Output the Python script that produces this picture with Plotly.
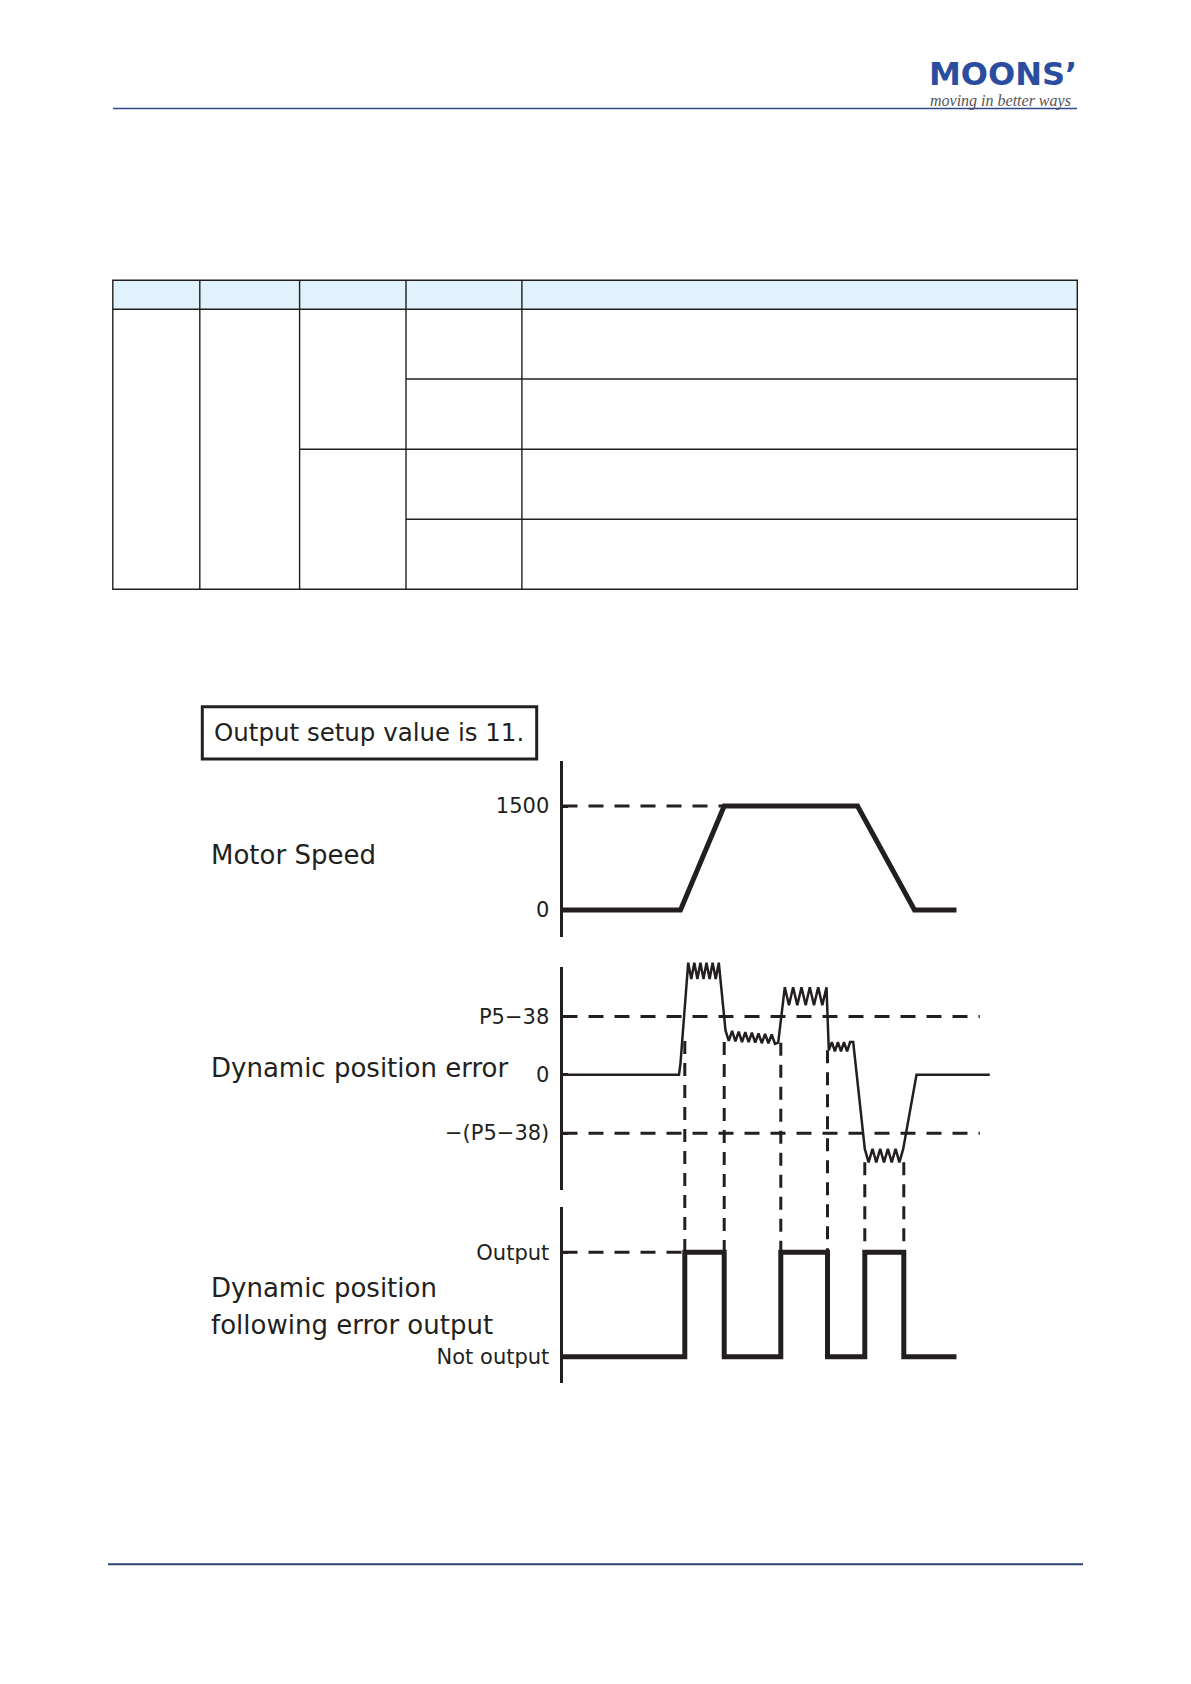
import plotly.graph_objects as go

# Page is 1191x1684; the browser adds an 8px body margin, so the figure is
# 8px smaller on every side and page coordinates are shifted by 8px.
PAGE_W, PAGE_H = 1191, 1684
OFF = 8
W, H = PAGE_W - 2 * OFF, PAGE_H - 2 * OFF

# ---------------- data ----------------
# Motor speed profile (time in arbitrary units, speed in rpm)
speed_t = [0, 118, 161.7, 295, 352, 394]
speed_v = [0, 0, 1500, 1500, 0, 0]
speed_tickvals = [1500, 0]
speed_ticktext = ["1500", "0"]
speed_limit = 1500
speed_limit_end_t = 161.7

# Dynamic position error (in units of P5-38)
err_t = [0, 116.5, 118, 125.7, 128.8, 131.8, 134.9, 137.9, 141.0, 144.0, 147.1, 150.1, 153.2, 156.3,
         163.0, 166.3, 169.6, 172.9, 176.2, 179.5, 182.8, 186.1, 189.4, 192.7, 196.0, 199.3, 202.6,
         205.9, 209.2, 212.5, 215.7,
         222.3, 226.5, 230.6, 234.8, 239.0, 243.2, 247.3, 251.5, 255.7, 259.8, 264.0,
         266.3, 269.3, 272.4, 275.4, 278.5, 281.5, 284.6, 287.6, 290.7,
         302.3, 306.1, 310.0, 313.8, 317.7, 321.5, 325.4, 329.2, 333.1, 336.9, 340.7,
         354.0, 427.3]
err_v = [0, 0, 0.2, 1.92, 1.64, 1.92, 1.64, 1.92, 1.64, 1.92, 1.64, 1.92, 1.64, 1.92,
         0.76, 0.58, 0.75, 0.57, 0.74, 0.56, 0.73, 0.56, 0.72, 0.55, 0.71, 0.54, 0.70,
         0.54, 0.69, 0.53, 0.55,
         1.50, 1.19, 1.50, 1.19, 1.50, 1.19, 1.50, 1.19, 1.50, 1.19, 1.50,
         0.42, 0.56, 0.40, 0.56, 0.40, 0.56, 0.40, 0.56, 0.56,
         -1.27, -1.50, -1.27, -1.50, -1.27, -1.50, -1.27, -1.50, -1.27, -1.50, -1.27,
         0.0, 0.0]
err_tickvals = [1, 0, -1]
err_ticktext = ["P5\u221238", "0", "\u2212(P5\u221238)"]
err_limit = 1
err_limit_end_t = 417.3

# Output signal (1 = output, 0 = not output), switching times
out_t = [0, 122.3, 161.7, 218.3, 265.0, 302.3, 341.3, 394]
out_v = [0, 1, 0, 1, 0, 1, 0, 0]
out_tickvals = [1, 0]
out_ticktext = ["Output", "Not output"]
out_dash_end_t = 122.3
# error level at which each switching guide line starts
edge_t = [122.3, 161.7, 218.3, 265.0, 302.3, 341.3]
edge_err = [0.58, 0.56, 0.55, 0.42, -1.50, -1.50]

panel_titles = ["Motor Speed", "Dynamic position error", "Dynamic position", "following error output"]
box_text = "Output setup value is 11."

# ---------------- helpers ----------------
def px(x):
    return (x - OFF) / W

def py(y):
    return 1 - (y - OFF) / H

INK = "#231f20"
FONT = "DejaVu Sans"

x_dom = [px(562.5), px(1002.5)]
x_rng = [0, 440]

p1_dom = [py(937), py(761)]
p1_rng = [-389.4, 2149]
p2_dom = [py(1190), py(966.7)]
p2_rng = [-1.974, 1.851]
p3_dom = [py(1383), py(1206.7)]
p3_rng = [-0.252, 1.437]

# taller invisible twin of panel 2 (same scale) so the error peaks are not clipped
p2_unit = (p2_dom[1] - p2_dom[0]) / (p2_rng[1] - p2_rng[0])
p2b_dom = [p2_dom[0], py(948)]
p2b_rng = [p2_rng[0], p2_rng[0] + (p2b_dom[1] - p2b_dom[0]) / p2_unit]


def to_paper(v, dom, rng):
    return dom[0] + (v - rng[0]) / (rng[1] - rng[0]) * (dom[1] - dom[0])


fig = go.Figure()

# Panel 1: motor speed
fig.add_trace(go.Scatter(x=[0, speed_limit_end_t], y=[speed_limit, speed_limit], mode="lines",
                         line=dict(color=INK, width=3, dash="15px,11px"), xaxis="x", yaxis="y"))
fig.add_trace(go.Scatter(x=speed_t, y=speed_v, mode="lines",
                         line=dict(color=INK, width=5), xaxis="x", yaxis="y"))

# Panel 2: dynamic position error
for lv in [err_limit, -err_limit]:
    fig.add_trace(go.Scatter(x=[0, err_limit_end_t], y=[lv, lv], mode="lines",
                             line=dict(color=INK, width=3, dash="15px,11px"), xaxis="x2", yaxis="y2"))
fig.add_trace(go.Scatter(x=err_t, y=err_v, mode="lines",
                         line=dict(color=INK, width=2.5), xaxis="x4", yaxis="y4"))

# Panel 3: output
fig.add_trace(go.Scatter(x=[0, out_dash_end_t], y=[1, 1], mode="lines",
                         line=dict(color=INK, width=3, dash="15px,11px"), xaxis="x3", yaxis="y3"))
fig.add_trace(go.Scatter(x=out_t, y=out_v, mode="lines", line_shape="hv",
                         line=dict(color=INK, width=5), xaxis="x3", yaxis="y3"))

shapes = []
# vertical guide lines from error trace to output level
for t, lv in zip(edge_t, edge_err):
    shapes.append(dict(type="line", xref="x3", yref="paper", x0=t, x1=t,
                       y0=to_paper(lv, p2_dom, p2_rng), y1=to_paper(1, p3_dom, p3_rng),
                       line=dict(color=INK, width=3, dash="13px,9px"), layer="below"))

# page header / footer lines
shapes.append(dict(type="line", xref="paper", yref="paper", x0=px(113), x1=px(1077),
                   y0=py(108.5), y1=py(108.5), line=dict(color="#2e4a8a", width=1.5)))
shapes.append(dict(type="line", xref="paper", yref="paper", x0=px(108), x1=px(1083),
                   y0=py(1564.3), y1=py(1564.3), line=dict(color="#2e4373", width=2)))

# empty table
TL, TR, TT, THB, TB = 112.8, 1077.3, 280.3, 309.3, 589.3
cols = [199.8, 299.6, 406.0, 521.9]
tline = dict(color="#1f1f1f", width=1.4)
shapes.append(dict(type="rect", xref="paper", yref="paper", x0=px(TL), x1=px(TR), y0=py(TT), y1=py(THB),
                   fillcolor="#e1f2fc", line=dict(width=0), layer="below"))
shapes.append(dict(type="rect", xref="paper", yref="paper", x0=px(TL), x1=px(TR), y0=py(TT), y1=py(TB),
                   line=tline))
shapes.append(dict(type="line", xref="paper", yref="paper", x0=px(TL), x1=px(TR), y0=py(THB), y1=py(THB),
                   line=tline))
for c in cols:
    shapes.append(dict(type="line", xref="paper", yref="paper", x0=px(c), x1=px(c), y0=py(TT), y1=py(TB),
                       line=tline))
for r in [379, 519.3]:
    shapes.append(dict(type="line", xref="paper", yref="paper", x0=px(cols[2]), x1=px(TR), y0=py(r), y1=py(r),
                       line=tline))
shapes.append(dict(type="line", xref="paper", yref="paper", x0=px(cols[1]), x1=px(TR), y0=py(449.3),
                   y1=py(449.3), line=tline))

# title box
shapes.append(dict(type="rect", xref="paper", yref="paper", x0=px(202.3), x1=px(536.7),
                   y0=py(706.7), y1=py(759), line=dict(color=INK, width=3)))

annotations = [
    dict(text=box_text, x=px(212), y=py(733), xanchor="left", yanchor="middle",
         font=dict(family=FONT, size=24.5, color=INK)),
    dict(text=panel_titles[0], x=px(208.5), y=py(855), xanchor="left", yanchor="middle",
         font=dict(family=FONT, size=26, color=INK)),
    dict(text=panel_titles[1], x=px(208.5), y=py(1068), xanchor="left", yanchor="middle",
         font=dict(family=FONT, size=26, color=INK)),
    dict(text=panel_titles[2], x=px(208.5), y=py(1288), xanchor="left", yanchor="middle",
         font=dict(family=FONT, size=26, color=INK)),
    dict(text=panel_titles[3], x=px(208.5), y=py(1325), xanchor="left", yanchor="middle",
         font=dict(family=FONT, size=26, color=INK)),
    dict(text="<b>MOONS\u2019</b>", x=px(927), y=py(74.5), xanchor="left", yanchor="middle",
         font=dict(family="DejaVu Sans", size=32, color="#2b4da0")),
    dict(text="<i>moving in better ways</i>", x=px(928), y=py(101.5), xanchor="left", yanchor="middle",
         font=dict(family="Liberation Serif", size=16, color="#555555")),
]
for a in annotations:
    a.update(xref="paper", yref="paper", showarrow=False)

def yax(dom, rng, tv, tt):
    return dict(domain=dom, range=rng, tickvals=tv, ticktext=tt, showline=True, linewidth=3,
                linecolor=INK, ticks="inside", ticklen=5, tickwidth=3, tickcolor=INK,
                tickfont=dict(family=FONT, size=21, color=INK), ticklabelstandoff=6,
                showgrid=False, zeroline=False, fixedrange=True)

def xax(anchor):
    return dict(domain=x_dom, range=x_rng, visible=False, showgrid=False, zeroline=False,
                anchor=anchor, fixedrange=True)

fig.update_layout(
    width=W, height=H, margin=dict(l=0, r=0, t=0, b=0),
    paper_bgcolor="white", plot_bgcolor="rgba(0,0,0,0)", showlegend=False,
    xaxis=xax("y"), xaxis2=xax("y2"), xaxis3=xax("y3"), xaxis4=xax("y4"),
    yaxis=dict(anchor="x", **yax(p1_dom, p1_rng, speed_tickvals, speed_ticktext)),
    yaxis2=dict(anchor="x2", **yax(p2_dom, p2_rng, err_tickvals, err_ticktext)),
    yaxis3=dict(anchor="x3", **yax(p3_dom, p3_rng, out_tickvals, out_ticktext)),
    yaxis4=dict(anchor="x4", domain=p2b_dom, range=p2b_rng, visible=False, showgrid=False,
                zeroline=False, fixedrange=True),
    shapes=shapes, annotations=annotations,
)

fig.write_html("out.html", config=dict(displayModeBar=False))
